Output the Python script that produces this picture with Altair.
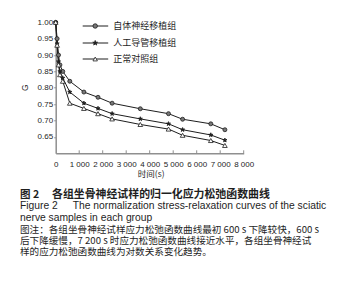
import altair as alt
import pandas as pd

# ---- data ----
times = [0, 60, 120, 180, 300, 600, 1200, 1800, 2400, 3600, 4800, 5400, 6600, 7200]
autograft = [1.00, 0.95, 0.90, 0.87, 0.85, 0.82, 0.787, 0.771, 0.753, 0.736, 0.721, 0.704, 0.690, 0.672]
conduit = [1.00, 0.935, 0.88, 0.85, 0.83, 0.787, 0.753, 0.737, 0.721, 0.705, 0.690, 0.672, 0.656, 0.640]
control = [1.00, 0.93, 0.87, 0.84, 0.82, 0.753, 0.737, 0.721, 0.705, 0.688, 0.674, 0.655, 0.639, 0.624]
series_names = ["自体神经移植组", "人工导管移植组", "正常对照组"]
x_ticks = [0, 1000, 2000, 3000, 4000, 5000, 6000, 7000, 8000]
y_ticks = [0.65, 0.70, 0.75, 0.80, 0.85, 0.90, 0.95, 1.00]
fig_label_cn = "图 2"
fig_title_cn = "各组坐骨神经试样的归一化应力松弛函数曲线"
fig_label_en = "Figure 2"
fig_title_en = "The normalization stress-relaxation curves of the sciatic"
fig_title_en2 = "nerve samples in each group"
note_lines = [
    "图注：各组坐骨神经试样应力松弛函数曲线最初 600 s 下降较快，600 s",
    "后下降缓慢，7 200 s 时应力松弛函数曲线接近水平，各组坐骨神经试",
    "样的应力松弛函数曲线为对数关系变化趋势。",
]

rows = []
for name, vals in zip(series_names, [autograft, conduit, control]):
    for t, v in zip(times, vals):
        rows.append({"t": t, "G": v, "group": name})
df = pd.DataFrame(rows)
tick_df = pd.DataFrame({"t": x_ticks[1:]})

CJK = "Noto Sans CJK SC"
LAT = "Liberation Sans"
INK = "#1e1e1e"
AXC = "#8f8f8f"

star = ("M0,-1L0.24,-0.32L0.95,-0.31L0.38,0.12L0.59,0.81L0,0.4L-0.59,0.81"
        "L-0.38,0.12L-0.95,-0.31L-0.24,-0.32Z")
shape_range = ["circle", star, "triangle-up"]
fill_range = ["#777777", INK, "white"]
size_range = [16, 22, 16]

H = 131
x_scale = alt.Scale(domain=[0, 8000], nice=False)
y_scale = alt.Scale(domain=[0.6, 1.0], nice=False, zero=False)

x_axis = alt.Axis(
    values=x_ticks,
    labelExpr="datum.value == 0 ? '0' : format(datum.value / 1000, 'd') + ' 000'",
    labelOverlap=False,
    labelFlush=False,
    title="时间(s)",
    titleFont=CJK,
    titleFontSize=8.5,
    titleFontWeight="normal",
    titleColor=INK,
    titlePadding=1.5,
    titleX=95,
    labelFont=LAT,
    labelFontSize=8,
    labelColor=INK,
    labelPadding=7,
    tickSize=0,
    grid=False,
)
y_axis = alt.Axis(
    values=y_ticks,
    format=".2f",
    labelOverlap=False,
    title="G",
    titleFont=LAT,
    titleFontSize=8.5,
    titleFontWeight="normal",
    titleColor=INK,
    titleX=-26,
    titleY=65,
    labelFont=LAT,
    labelFontSize=8,
    labelColor=INK,
    labelPadding=1,
    tickSize=2,
    grid=False,
)

X = alt.X("t:Q", scale=x_scale, axis=x_axis)
Y = alt.Y("G:Q", scale=y_scale, axis=y_axis)

lines = alt.Chart(df).mark_line(color=INK, strokeWidth=1).encode(
    x=X, y=Y, detail="group:N",
)
points = alt.Chart(df).mark_point(strokeWidth=0.8, opacity=1, filled=False).encode(
    x=X,
    y=Y,
    shape=alt.Shape("group:N", scale=alt.Scale(domain=series_names, range=shape_range), legend=None),
    fill=alt.Fill("group:N", scale=alt.Scale(domain=series_names, range=fill_range), legend=None),
    size=alt.Size("group:N", scale=alt.Scale(domain=series_names, range=size_range), legend=None),
    stroke=alt.value(INK),
)
# inward x ticks
xticks = alt.Chart(tick_df).mark_rule(color=AXC, strokeWidth=1).encode(
    x=X, y=alt.value(H), y2=alt.value(H - 3)
)

layers = [lines, points, xticks]

# ---- manual legend (top of plot) ----
legend_y = [3.7, 20.7, 36.7]
for i, name in enumerate(series_names):
    ldf = pd.DataFrame({"name": [name]})
    base = alt.Chart(ldf)
    layers.append(base.mark_rule(color=INK, strokeWidth=1).encode(
        x=alt.value(27), x2=alt.value(52.5), y=alt.value(legend_y[i])))
    layers.append(base.mark_point(strokeWidth=0.8, opacity=1, filled=False).encode(
        x=alt.value(39.5), y=alt.value(legend_y[i]),
        shape=alt.value(shape_range[i]), fill=alt.value(fill_range[i]),
        size=alt.value(size_range[i] + 4), stroke=alt.value(INK)))
    layers.append(base.mark_text(align="left", baseline="middle", font=CJK,
                                 fontSize=9, color=INK).encode(
        x=alt.value(57.5), y=alt.value(legend_y[i]), text="name:N"))


def caption(txt, x, y, font, size, weight="normal"):
    cdf = pd.DataFrame({"line": [txt]})
    return alt.Chart(cdf).mark_text(
        align="left", baseline="middle", font=font, fontSize=size,
        fontWeight=weight, color=INK).encode(
        x=alt.value(x), y=alt.value(y), text="line:N")


X0 = -35.7
layers.append(caption(fig_label_cn, X0, 172.7, CJK, 10.5, "bold"))
layers.append(caption(fig_title_cn, 52 - 55.7, 172.7, CJK, 10.9, "bold"))
layers.append(caption(fig_label_en, X0, 184.0, LAT, 10.3))
layers.append(caption(fig_title_en, 72.7 - 55.7, 184.0, LAT, 10.3))
layers.append(caption(fig_title_en2, X0, 195.5, LAT, 10.3))
for yy, line in zip([207.7, 218.9, 230.0], note_lines):
    layers.append(caption(line, X0, yy, CJK, 9.6))

chart = alt.layer(*layers).properties(
    width=188,
    height=H,
    autosize=alt.AutoSizeParams(type="none"),
    padding={"left": 55.7, "top": 22.3, "right": 111.3, "bottom": 293 - 22.3 - H},
    background="white",
).configure_view(stroke=None).configure_axis(
    domainColor=AXC, domainWidth=1.5, tickColor=AXC, tickWidth=1
)

chart.save("out.html", embed_options={"renderer": "svg", "actions": False})
